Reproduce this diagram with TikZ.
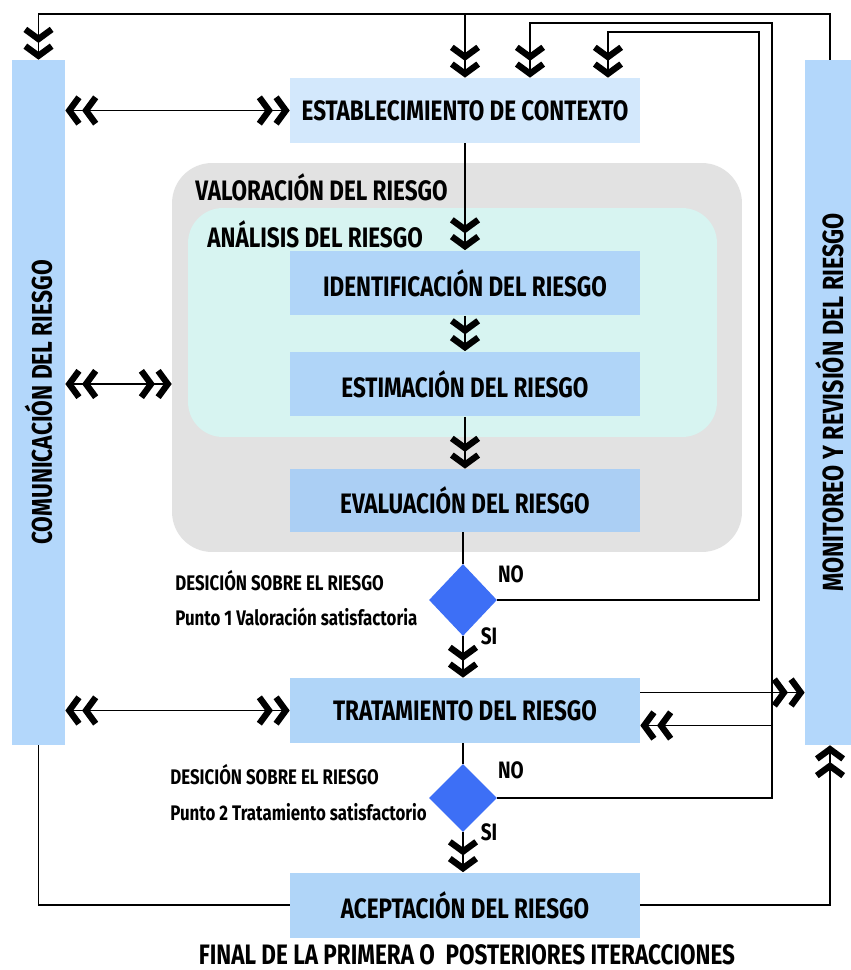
\documentclass[tikz,border=0pt]{standalone}
\usepackage{fontspec}
\setmainfont{Fira Sans}[FakeStretch = 0.8]
\usepackage{tikz}
\usetikzlibrary{arrows.meta}
\usetikzlibrary{positioning}
\usetikzlibrary{shapes.geometric}

\definecolor{barblue}{HTML}{B3D7FB}
\definecolor{ctxblue}{HTML}{D3E8FC}
\definecolor{boxblue}{HTML}{B0D5F8}
\definecolor{evablue}{HTML}{ABCFF4}
\definecolor{valgray}{HTML}{E2E2E2}
\definecolor{anacyan}{HTML}{D7F4F1}
\definecolor{decblue}{HTML}{3D6FF6}

\tikzset{
    chev/.tip = {Straight Barb[length = 5.5pt, width = 15pt, line width = 3.6pt] Straight Barb[length = 5.5pt, width = 15pt, line width = 3.6pt]},
    conn/.style = {draw = black, line width = 0.8pt},
    box/.style = {rectangle, fill = boxblue, minimum width = 7cm, minimum height = 1.3cm, inner sep = 0, font = \bfseries\fontsize{16}{19}\selectfont},
    bar/.style = {rectangle, fill = barblue, minimum width = 1.06cm, minimum height = 13.7cm, inner sep = 0},
    dec/.style = {diamond, fill = decblue, minimum width = 1.36cm, minimum height = 1.44cm, inner sep = 0},
    lbl/.style = {inner sep = 0, font = \bfseries\fontsize{16}{19}\selectfont},
    small/.style = {inner sep = 0, font = \bfseries\fontsize{12}{14}\selectfont}
}

\begin{document}
\begin{tikzpicture}[x = 0.02cm, y = -0.02cm]

        % Define page and background regions
        \useasboundingbox[fill = white] (0,0) rectangle (850,970);
        \node[fill = valgray, rounded corners = 0.8cm, minimum width = 11.4cm, minimum height = 7.78cm] (val) at (457,357.5) {};
        \node[fill = anacyan, rounded corners = 0.7cm, minimum width = 10.58cm, minimum height = 4.58cm] (ana) at (452.5,322.5) {};
        \node[lbl, anchor = west] (valt) at (195,187) {VALORACIÓN DEL RIESGO};
        \node[lbl, anchor = west] (anat) at (207,234) {ANÁLISIS DEL RIESGO};

        % Side bars
        \node[bar] (com) at (38.5,402.5) {};
        \node[bar, minimum width = 1cm] (mon) at (830,402.5) {};
        \node[small, rotate = 90, font = \bfseries\fontsize{16.2}{18}\selectfont] (comt) at (com) {COMUNICACIÓN DEL RIESGO};
        \node[small, rotate = 90, font = \bfseries\fontsize{16.6}{18}\selectfont] (mont) at (mon) {MONITOREO Y REVISIÓN DEL RIESGO};

        % Process boxes
        \node[box, fill = ctxblue] (ctx) at (465,110.5) {ESTABLECIMIENTO DE CONTEXTO};
        \node[box] (ide) at (465,283) {IDENTIFICACIÓN DEL RIESGO};
        \node[box] (est) at (465,384) {ESTIMACIÓN DEL RIESGO};
        \node[box, fill = evablue, minimum height = 1.26cm] (eva) at (465,500.5) {EVALUACIÓN DEL RIESGO};
        \node[dec] (d1) at (463,600) {};
        \node[box] (tra) at (465,710.5) {TRATAMIENTO DEL RIESGO};
        \node[dec, minimum height = 1.36cm] (d2) at (463,798) {};
        \node[box] (ace) at (465,905) {ACEPTACIÓN DEL RIESGO};
        \node[lbl] (fin) at (467,955) {FINAL DE LA PRIMERA O\ \ POSTERIORES ITERACCIONES};

        % Decision texts
        \node[small, anchor = west] (d1a) at (175,581) {DESICIÓN SOBRE EL RIESGO};
        \node[small, anchor = west] (d1b) at (175,617) {Punto 1 Valoración satisfactoria};
        \node[small, anchor = west] (d2a) at (170,775) {DESICIÓN SOBRE EL RIESGO};
        \node[small, anchor = west] (d2b) at (170,812) {Punto 2 Tratamiento satisfactorio};
        \node[small, font = \bfseries\fontsize{13.5}{15}\selectfont] (no1) at (511,574) {NO};
        \node[small, font = \bfseries\fontsize{13.5}{15}\selectfont] (si1) at (489,636) {SI};
        \node[small, font = \bfseries\fontsize{13.5}{15}\selectfont] (no2) at (511,770) {NO};
        \node[small, font = \bfseries\fontsize{13.5}{15}\selectfont] (si2) at (489,832) {SI};

        % Feedback lines
        \coordinate (top) at (465,14);
        \coordinate (r1) at (759,32);
        \coordinate (r2) at (772,23);
        \coordinate (t1) at ([yshift = 0.36cm]tra.east);
        \coordinate (t2) at ([yshift = -0.3cm]tra.east);
        \draw[conn, -chev] (mon.north) |- (top) -| (com.north);
        \draw[conn, -chev] (top) -- (ctx.north);
        \draw[conn, -chev] (d2.east) -| (r2) -| ([xshift = 1.3cm]ctx.north);
        \draw[conn, -chev] (d1.east) -| (r1) -| ([xshift = 2.86cm]ctx.north);
        \draw[conn, -chev] (t1) -- (t1 -| mon.west);
        \draw[conn, -chev] (t2 -| r2) -- (t2);
        \draw[conn] (ace.west) -| (com.south);
        \draw[conn, -chev] (ace.east) -| (mon.south);

        % Communication arrows
        \draw[conn, chev-chev] (com.east |- ctx) -- (ctx.west);
        \draw[conn, chev-chev] (com.east |- est) -- (est -| val.west);
        \draw[conn, chev-chev] (com.east |- tra) -- (tra.west);

        % Main flow
        \draw[conn, -chev] (ctx.south) -- (ide.north);
        \draw[conn, -chev] (ide) -- (est);
        \draw[conn, -chev] (est) -- (eva);
        \draw[conn] (eva.south -| d1) -- (d1.north);
        \draw[conn, -chev] (d1.south) -- (tra.north -| d1);
        \draw[conn] (tra.south -| d2) -- (d2.north);
        \draw[conn, -chev] (d2.south) -- (ace.north -| d2);
    \end{tikzpicture}
\end{document}
